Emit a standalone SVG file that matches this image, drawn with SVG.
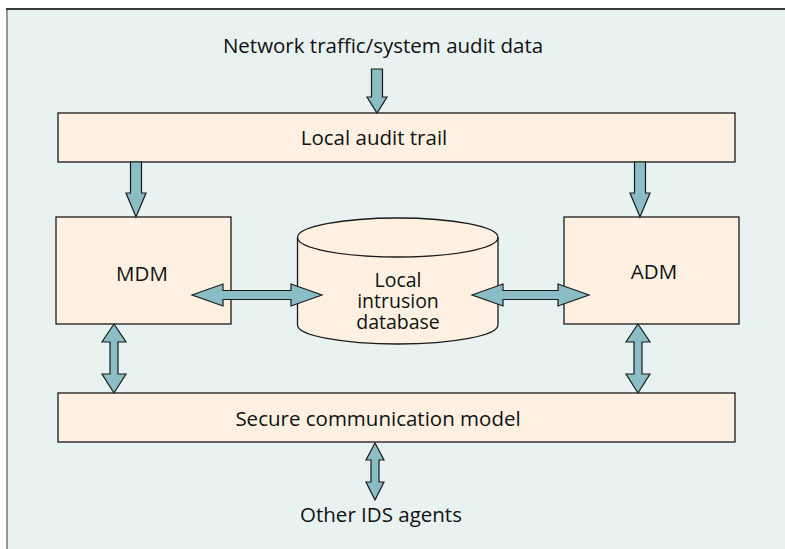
<svg xmlns="http://www.w3.org/2000/svg" width="785" height="549" viewBox="0 0 785 549">
<style>
.box{fill:#fef1e2;stroke:#1a1a1a;stroke-width:1.3}
.arr{fill:#8bbdc5;stroke:#1a1a1a;stroke-width:1.2;stroke-linejoin:miter}
text{font-family:"Open Sans","Noto Sans","Liberation Sans",sans-serif;font-size:20.5px;fill:#111;text-anchor:middle}
.db{font-size:19.5px}
</style>
<rect x="0" y="0" width="785" height="549" fill="#ffffff"/>
<rect x="7" y="9" width="800" height="560" fill="#e8f2f1" stroke="#777" stroke-width="1.5"/>
<line x1="6" y1="9" x2="785" y2="9" stroke="#1a1a1a" stroke-width="1.5"/>
<text id="lbl-input" x="383" y="53">Network traffic/system audit data</text>
<g id="audit-trail">
<rect class="box" x="58" y="113" width="677" height="49"/>
<text x="374" y="145">Local audit trail</text>
</g>
<g id="mdm">
<rect class="box" x="56" y="217" width="175" height="107"/>
<text x="142" y="281">MDM</text>
</g>
<g id="adm">
<rect class="box" x="564" y="217" width="175" height="107"/>
<text x="654" y="279">ADM</text>
</g>
<g id="database">
<path class="box" d="M297.5,237.5 A100.25,19.5 0 0 1 498,237.5 L498,325 A100.25,19 0 0 1 297.5,325 Z"/>
<path d="M297.5,237.5 A100.25,19.5 0 0 0 498,237.5" fill="none" stroke="#1a1a1a" stroke-width="1.3"/>
<text class="db" x="398" y="287"><tspan x="398" y="287">Local</tspan><tspan x="398" y="308">intrusion</tspan><tspan x="398" y="329">database</tspan></text>
</g>
<g id="secure-comm">
<rect class="box" x="58" y="393" width="677" height="49"/>
<text x="378" y="426">Secure communication model</text>
</g>
<text id="lbl-output" x="381" y="522">Other IDS agents</text>
<g id="connectors">
<polygon class="arr" points="371.5,69 382.5,69 382.5,97 387,97 377,113 367,97 371.5,97"/>
<polygon class="arr" points="130.5,162 141.5,162 141.5,193 146,193 136,217 126,193 130.5,193"/>
<polygon class="arr" points="634.5,162 645.5,162 645.5,193 650,193 640,217 630,193 634.5,193"/>
<polygon class="arr" points="192,295 223,284 223,290.5 291,290.5 291,284 322,295 291,306 291,299.5 223,299.5 223,306"/>
<polygon class="arr" points="472,295 503,284 503,290.5 558,290.5 558,284 589,295 558,306 558,299.5 503,299.5 503,306"/>
<polygon class="arr" points="114,324 126,342 118,342 118,374 126,374 114,393 102,374 110,374 110,342 102,342"/>
<polygon class="arr" points="638,324 650,342 642,342 642,374 650,374 638,393 626,374 634,374 634,342 626,342"/>
<polygon class="arr" points="375,443 384,460 379,460 379,482 384,482 375,500 366,482 371,482 371,460 366,460"/>
</g>
</svg>
